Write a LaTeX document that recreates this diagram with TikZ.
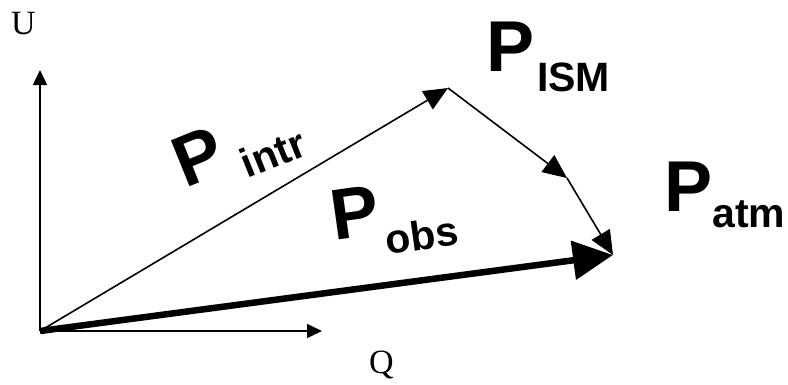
\documentclass[tikz,border=0pt]{standalone}
\usepackage{fontspec}
\setmainfont{Liberation Serif}
\setsansfont{Liberation Sans}
\usetikzlibrary{arrows.meta}
\newcommand{\bigPfont}{\fontsize{72}{72}\sffamily\bfseries\selectfont}
\newcommand{\subPfont}{\fontsize{41}{41}\sffamily\bfseries\selectfont}
\newcommand{\axfont}{\fontsize{34}{34}\rmfamily\selectfont}
\tikzset{
  axis/.style={-{Triangle[length=15pt,width=14pt]},line width=1.5pt},
  vec/.style={-{Triangle[length=24pt,width=21pt]},line width=1.6pt},
  obsvec/.style={-{Triangle[length=40pt,width=38pt]},line width=6.5pt},
  bigP/.style={inner sep=0pt,font=\bigPfont},
  subP/.style={inner sep=0pt,font=\subPfont},
  axlab/.style={inner sep=0pt,font=\axfont},
}
\begin{document}
\begin{tikzpicture}[x=1pt,y=-1pt]
  \useasboundingbox (0,0) rectangle (788,384);
  % points
  \coordinate (O) at (40,331);
  \coordinate (Utip) at (40,70);
  \coordinate (Qtip) at (322,331);
  \coordinate (intr) at (448,88);
  \coordinate (ism) at (567,178);
  \coordinate (atm) at (613,255);
  % axes
  \draw[axis] (O) -- (Utip);
  \draw[axis] (O) -- (Qtip);
  \node[axlab] (U) at (23.5,24) {U};
  \node[axlab] (Q) at (381.5,365) {Q};
  % vectors
  \draw[vec] (O) -- (intr);
  \draw[vec] (intr) -- (ism);
  \draw[vec] (ism) -- (atm);
  \draw[obsvec] (O) -- (atm);
  % labels
  \node[bigP,rotate=22] (Pintr) at (198,157) {P};
  \node[subP,rotate=22] (sintr) at (273,153) {intr};
  \node[bigP] (Pism) at (511,46.5) {P};
  \node[subP] (sism) at (573.5,77) {ISM};
  \node[bigP] (Patm) at (689,187) {P};
  \node[subP] (satm) at (749,214) {atm};
  \node[bigP,rotate=8] (Pobs) at (355,213) {P};
  \node[subP,rotate=8] (sobs) at (422,235) {obs};
\end{tikzpicture}
\end{document}
